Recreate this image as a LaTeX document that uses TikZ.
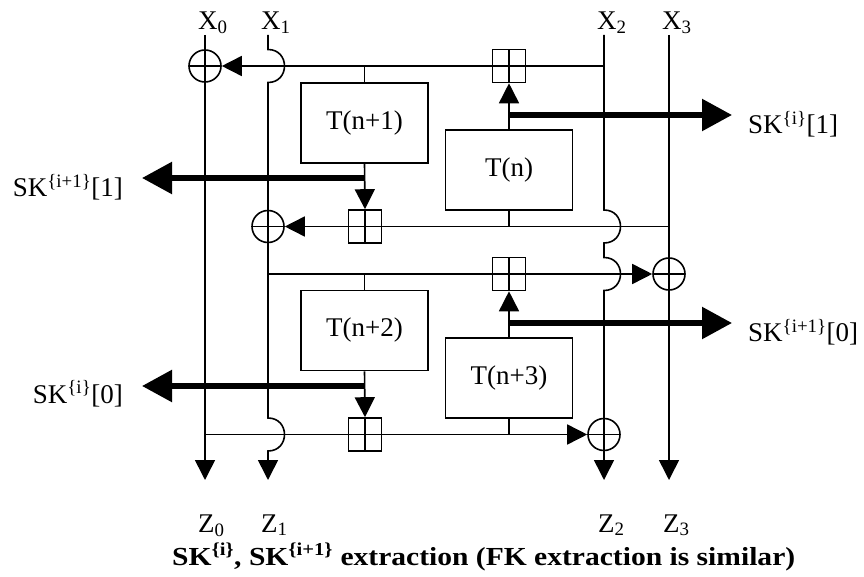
\documentclass[tikz,border=0pt]{standalone}
\usepackage{fontspec}
\setmainfont{Liberation Serif}
\usepackage{graphicx}
\usetikzlibrary{arrows.meta}
\begin{document}
\begin{tikzpicture}[x=1pt,y=-1pt,
  >={Triangle[length=20pt,width=20pt]},
  conn/.style={line width=1.6pt},
  thickarr/.style={line width=5.5pt,-{Triangle[length=30pt,width=31pt]}},
  xorn/.style={circle,draw,line width=1.6pt,minimum size=32pt,inner sep=0pt,
    path picture={\draw[line width=1.6pt] (path picture bounding box.north) -- (path picture bounding box.south)
      (path picture bounding box.west) -- (path picture bounding box.east);}},
  bplus/.style={rectangle,draw,line width=1.6pt,minimum size=33pt,inner sep=0pt,
    path picture={\draw[line width=1.6pt] (path picture bounding box.north) -- (path picture bounding box.south)
      (path picture bounding box.west) -- (path picture bounding box.east);}},
  tbox/.style={draw,line width=1.6pt,minimum width=127pt,minimum height=80pt,inner sep=0pt,
    font=\fontsize{27}{32}\selectfont},
  lbl/.style={inner sep=0pt,font=\fontsize{27}{32}\selectfont},
  caption/.style={inner sep=0pt,font=\bfseries\fontsize{26}{30}\selectfont}
]
\useasboundingbox (0,0) rectangle (864,577);

% operators
\node[xorn] (xa) at (205,66) {};
\node[xorn] (xb) at (268,226.5) {};
\node[xorn] (xc) at (669,274) {};
\node[xorn] (xd) at (604,434.5) {};
\node[bplus] (ba) at (509,66) {};
\node[bplus] (bb) at (365,226.5) {};
\node[bplus] (bc) at (509,274) {};
\node[bplus] (bd) at (365,434.5) {};

% T boxes
\node[tbox] (t1) at (364.5,123) {T(n+1)};
\node[tbox] (t0) at (509,170) {T(n)};
\node[tbox] (t2) at (364.5,330.5) {T(n+2)};
\node[tbox] (t3) at (509,378) {T(n+3)};

% labels
\node[lbl,anchor=base west] (lx0) at (198,30) {X\textsubscript{0}};
\node[lbl,anchor=base west] (lx1) at (261,30) {X\textsubscript{1}};
\node[lbl,anchor=base west] (lx2) at (597,30) {X\textsubscript{2}};
\node[lbl,anchor=base west] (lx3) at (662,30) {X\textsubscript{3}};
\node[lbl,anchor=base west] (lz0) at (198,532) {Z\textsubscript{0}};
\node[lbl,anchor=base west] (lz1) at (261,532) {Z\textsubscript{1}};
\node[lbl,anchor=base west] (lz2) at (598,532) {Z\textsubscript{2}};
\node[lbl,anchor=base west] (lz3) at (663,532) {Z\textsubscript{3}};

\node[lbl,anchor=base east] (s1) at (123,196.5) {SK\textsuperscript{\{i+1\}}[1]};
\node[lbl,anchor=base west] (s2) at (748,133.5) {SK\textsuperscript{\{i\}}[1]};
\node[lbl,anchor=base east] (s3) at (123,403) {SK\textsuperscript{\{i\}}[0]};
\node[lbl,anchor=base west] (s4) at (748,341.5) {SK\textsuperscript{\{i+1\}}[0]};

\node[caption,anchor=base west] (cap) at (172,565)
  {\resizebox{623pt}{\height}{SK\textsuperscript{\{i\}}, SK\textsuperscript{\{i+1\}} extraction (FK extraction is similar)}};

% coordinates
\coordinate (x0t) at (205,35);
\coordinate (x1t) at (268,35);
\coordinate (x2t) at (604,35);
\coordinate (x3t) at (669,35);
\coordinate (z0b) at (205,480);
\coordinate (z1b) at (268,480);
\coordinate (z2b) at (604,480);
\coordinate (z3b) at (669,480);
\coordinate (r1) at (604,66);
\coordinate (r2) at (669,226.5);
\coordinate (r3) at (268,274);
\coordinate (r4) at (205,434.5);
\coordinate (k1s) at (509,115);
\coordinate (k1e) at (732,115);
\coordinate (k2s) at (365,178);
\coordinate (k2e) at (142,178);
\coordinate (k3s) at (509,323);
\coordinate (k3e) at (732,323);
\coordinate (k4s) at (365,386);
\coordinate (k4e) at (142,386);

% vertical lines
\draw[conn,->] (x0t) -- (z0b);
\draw[conn,->] (x1t) -- (268,49.5) .. controls (290,49.5) and (290,82.5) .. (268,82.5)
  -- (268,418) .. controls (290,418) and (290,451) .. (268,451) -- (z1b);
\draw[conn,->] (x2t) -- (604,210) .. controls (626,210) and (626,243) .. (604,243)
  -- (604,257.5) .. controls (626,257.5) and (626,290.5) .. (604,290.5) -- (z2b);
\draw[conn,->] (x3t) -- (z3b);

% row 1
\draw[conn,->] (r1) -- (xa);
\draw[conn] (t1.north |- r1) -- (t1.north);
\draw[conn,->] (t0.north) -- (ba.south);
\draw[thickarr] (k1s) -- (k1e);
% row 2
\draw[conn] (t0.south) -- (t0.south |- r2);
\draw[conn,->] (r2) -- (xb);
\draw[conn,->] (t1.south) -- (bb.north);
\draw[thickarr] (k2s) -- (k2e);
% row 3
\draw[conn,->] (r3) -- (xc);
\draw[conn] (t2.north |- r3) -- (t2.north);
\draw[conn,->] (t3.north) -- (bc.south);
\draw[thickarr] (k3s) -- (k3e);
% row 4
\draw[conn,->] (t2.south) -- (bd.north);
\draw[thickarr] (k4s) -- (k4e);
\draw[conn,->] (r4) -- (xd);
\draw[conn] (t3.south) -- (t3.south |- r4);
\end{tikzpicture}
\end{document}
